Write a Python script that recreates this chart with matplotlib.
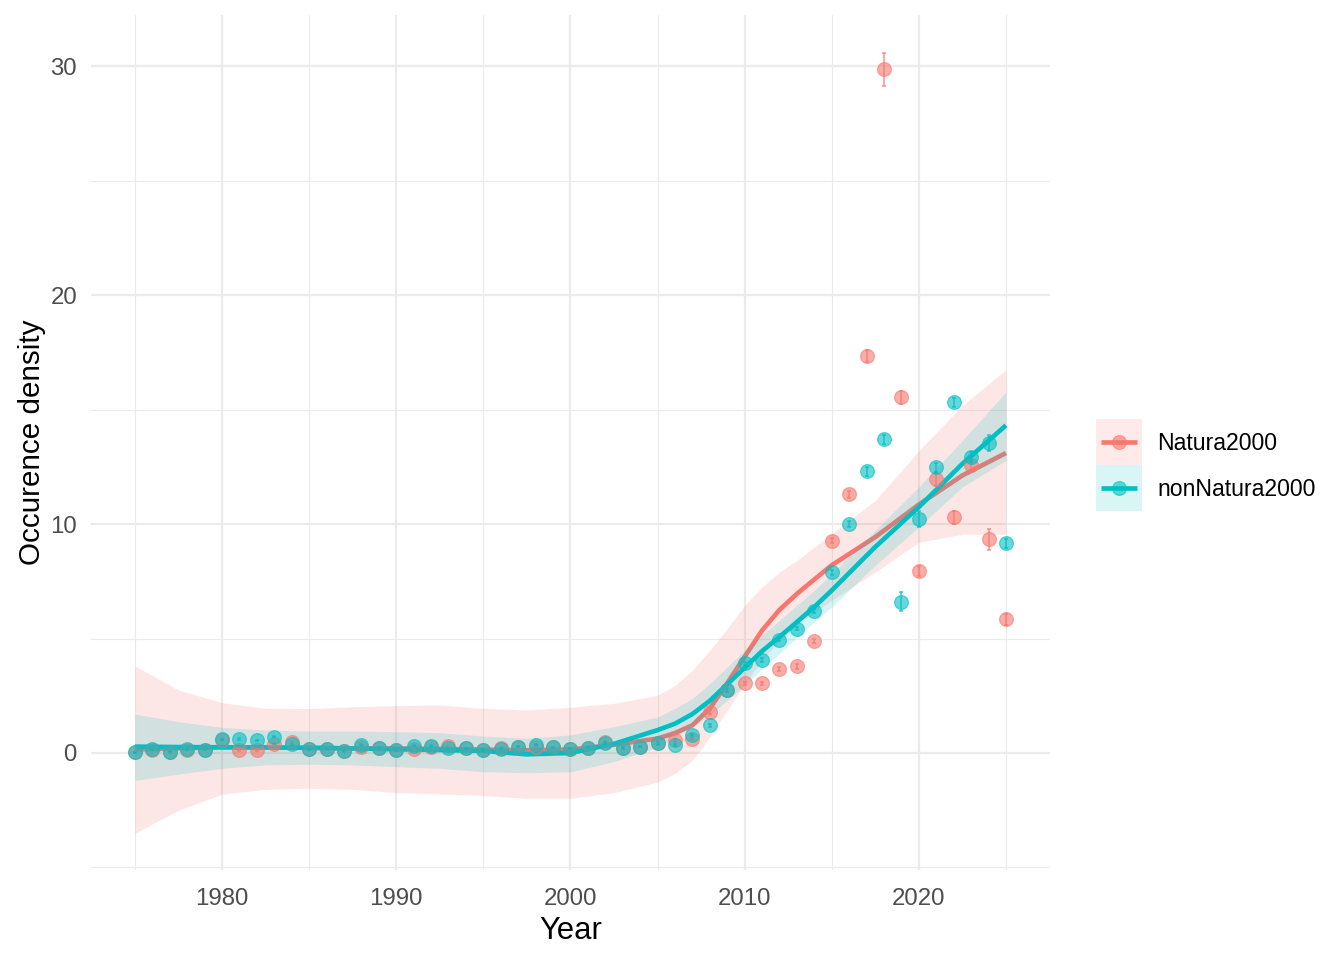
import matplotlib
matplotlib.use("Agg")
import matplotlib.pyplot as plt
import numpy as np

plt.rcParams["font.family"] = ["Liberation Sans", "DejaVu Sans"]

# puntos observados por año
years = list(range(1975, 2026))

natura = [0.03, 0.13, 0.05, 0.15, 0.14, 0.55, 0.13, 0.13, 0.41, 0.47,
          0.16, 0.19, 0.09, 0.25, 0.23, 0.13, 0.17, 0.28, 0.29, 0.20,
          0.13, 0.22, 0.26, 0.28, 0.25, 0.19, 0.22, 0.50, 0.23, 0.28,
          0.44, 0.55, 0.60, 1.80, 2.75, 3.04, 3.04, 3.66, 3.78, 4.89,
          9.28, 11.30, 17.34, 29.85, 15.53, 7.95, 11.95, 10.29, 12.56, 9.33,
          5.84]
natura_se = [0.03, 0.03, 0.03, 0.03, 0.03, 0.03, 0.03, 0.03, 0.03, 0.03,
             0.03, 0.03, 0.03, 0.03, 0.03, 0.03, 0.03, 0.03, 0.03, 0.03,
             0.03, 0.03, 0.03, 0.03, 0.03, 0.03, 0.03, 0.04, 0.04, 0.04,
             0.05, 0.05, 0.05, 0.08, 0.08, 0.08, 0.08, 0.10, 0.10, 0.10,
             0.12, 0.15, 0.25, 0.70, 0.30, 0.20, 0.30, 0.30, 0.25, 0.45,
             0.25]

non_natura = [0.03, 0.17, 0.06, 0.17, 0.14, 0.60, 0.61, 0.55, 0.71, 0.38,
              0.16, 0.19, 0.09, 0.35, 0.23, 0.13, 0.32, 0.31, 0.20, 0.20,
              0.13, 0.19, 0.28, 0.36, 0.25, 0.19, 0.23, 0.45, 0.23, 0.28,
              0.42, 0.34, 0.78, 1.21, 2.74, 3.91, 4.05, 4.95, 5.43, 6.21,
              7.89, 10.00, 12.30, 13.70, 6.61, 10.20, 12.47, 15.31, 12.93, 13.52,
              9.16]
non_natura_se = [0.03, 0.03, 0.03, 0.03, 0.03, 0.03, 0.03, 0.03, 0.03, 0.03,
                 0.03, 0.03, 0.03, 0.03, 0.03, 0.03, 0.03, 0.03, 0.03, 0.03,
                 0.03, 0.03, 0.03, 0.03, 0.03, 0.03, 0.03, 0.04, 0.04, 0.04,
                 0.05, 0.05, 0.05, 0.06, 0.07, 0.08, 0.08, 0.08, 0.08, 0.10,
                 0.10, 0.12, 0.20, 0.20, 0.40, 0.35, 0.20, 0.20, 0.20, 0.35,
                 0.20]

# curvas suavizadas con su banda de confianza
fit_years = [1975, 1977.5, 1980, 1982.5, 1985, 1987.5, 1990, 1992.5, 1995,
             1997.5, 2000, 2002.5, 2005, 2006, 2007, 2008, 2009, 2010, 2011,
             2012, 2013, 2014, 2015, 2017.5, 2020, 2022.5, 2025]

natura_fit = [0.15, 0.20, 0.25, 0.25, 0.22, 0.20, 0.20, 0.18, 0.15, 0.12,
              0.15, 0.36, 0.63, 0.87, 1.21, 1.94, 3.05, 4.20, 5.35, 6.25,
              6.95, 7.58, 8.20, 9.43, 10.85, 12.12, 13.10]
natura_lo = [-3.50, -2.50, -1.80, -1.59, -1.54, -1.59, -1.73, -1.79, -1.86,
             -1.98, -1.98, -1.73, -1.27, -0.90, -0.32, 0.70, 1.86, 3.03, 4.05,
             4.92, 5.57, 6.16, 6.67, 7.90, 9.20, 9.55, 9.55]
natura_hi = [3.80, 2.75, 2.20, 1.95, 1.94, 2.02, 2.07, 2.10, 1.95, 1.88,
             2.00, 2.17, 2.52, 2.95, 3.61, 4.48, 5.43, 6.45, 7.25, 7.90,
             8.41, 8.99, 9.58, 11.03, 13.20, 15.18, 16.74]

non_natura_fit = [0.28, 0.26, 0.25, 0.24, 0.23, 0.20, 0.16, 0.13, 0.09,
                  -0.06, 0.00, 0.40, 1.00, 1.28, 1.70, 2.28, 3.00, 3.72,
                  4.45, 5.07, 5.72, 6.38, 7.10, 9.00, 10.74, 12.63, 14.31]
non_natura_lo = [-1.20, -0.92, -0.67, -0.52, -0.49, -0.52, -0.60, -0.67,
                 -0.82, -0.86, -0.82, -0.38, 0.26, 0.70, 1.14, 1.64, 2.30,
                 2.95, 3.68, 4.34, 5.07, 5.72, 6.38, 8.20, 9.87, 11.62, 12.78]
non_natura_hi = [1.70, 1.37, 1.12, 1.00, 0.96, 0.96, 0.93, 0.89, 0.74, 0.64,
                 0.79, 1.15, 1.57, 1.94, 2.37, 3.03, 3.76, 4.48, 5.14, 5.79,
                 6.45, 7.10, 7.83, 9.72, 11.62, 13.65, 15.76]

groups = ["Natura2000", "nonNatura2000"]
colors = ["#F8766D", "#00BFC4"]

W, H, DPI = 1344, 960, 144
fig = plt.figure(figsize=(W / DPI, H / DPI), dpi=DPI)
fig.patch.set_facecolor("white")

# panel en pixeles
left, right, top, bottom = 91, 1050, 15, 870
ax = fig.add_axes([left / W, 1 - bottom / H, (right - left) / W, (bottom - top) / H])
ax.set_xlim(1972.48, 2027.53)
ax.set_ylim(-5.11, 32.23)

for s in ax.spines.values():
    s.set_visible(False)

grid_col = "#EBEBEB"
for yv in [0, 10, 20, 30]:
    ax.axhline(yv, color=grid_col, lw=1.1, zorder=0)
for yv in [-5, 5, 15, 25]:
    ax.axhline(yv, color=grid_col, lw=0.55, zorder=0)
for xv in [1980, 1990, 2000, 2010, 2020]:
    ax.axvline(xv, color=grid_col, lw=1.1, zorder=0)
for xv in [1975, 1985, 1995, 2005, 2015, 2025]:
    ax.axvline(xv, color=grid_col, lw=0.55, zorder=0)

smooths = [(natura_fit, natura_lo, natura_hi), (non_natura_fit, non_natura_lo, non_natura_hi)]
z = 1
for (fit, lo, hi), col in zip(smooths, colors):
    ax.fill_between(fit_years, lo, hi, color=col, alpha=0.17, lw=0, zorder=z)
    ax.plot(fit_years, fit, color=col, lw=2.3, solid_capstyle="butt",
            solid_joinstyle="round", zorder=z + 1)
    z += 2

points = [(natura, natura_se), (non_natura, non_natura_se)]
for (vals, se), col in zip(points, colors):
    ax.errorbar(years, vals, yerr=se, fmt="none", ecolor=col, elinewidth=1.0,
                capsize=1.2, capthick=1.0, alpha=0.6, zorder=z)
    ax.plot(years, vals, "o", color=col, ms=6.9, alpha=0.6, mew=0.6, zorder=z + 1)
    z += 2

ax.set_xticks([1980, 1990, 2000, 2010, 2020])
ax.set_yticks([0, 10, 20, 30])
ax.tick_params(length=0, labelsize=12, labelcolor="#4D4D4D")
ax.tick_params(axis="x", pad=9)
ax.tick_params(axis="y", pad=7)
ax.set_xlabel("Year", fontsize=15.5, color="black", labelpad=3)
ax.set_ylabel("Occurence density", fontsize=14.8, color="black", labelpad=2)

# leyenda manual
kx0, kx1, ky0 = 1096, 1142, 419
kh = 46
lax = fig.add_axes([kx0 / W, 1 - (ky0 + 2 * kh) / H, (kx1 - kx0) / W, 2 * kh / H])
lax.set_xlim(0, 1)
lax.set_ylim(0, 2)
lax.axis("off")
for i, (g, col) in enumerate(zip(groups, colors)):
    yc = 1.5 - i
    lax.fill_between([0, 1], yc - 0.5, yc + 0.5, color=col, alpha=0.15, lw=0)
    lax.plot([0.1, 0.9], [yc, yc], color=col, lw=2.3, solid_capstyle="butt")
    lax.plot([0.5], [yc], "o", color=col, ms=6.9, alpha=0.6, mew=0.6)
    fig.text(1157 / W, 1 - (ky0 + kh * i + kh / 2 + 2) / H, g, fontsize=11.5,
             color="black", va="center", ha="left")

fig.savefig("out.png", dpi=DPI, facecolor="white")
